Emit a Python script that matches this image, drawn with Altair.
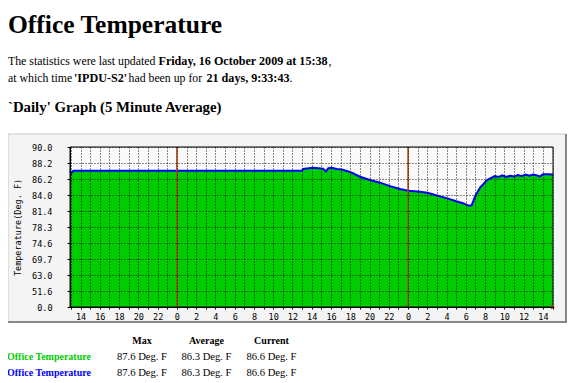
import altair as alt
import pandas as pd

# ---- data (hours relative to 15 Oct 2009 00:00) ----
hours = [-11.1, -10.95, -10.75, 13.0, 13.12, 14.13, 14.68, 15.17, 15.48, 15.72, 16.07, 16.59,
         17.11, 17.63, 18.15, 19.01, 20.05, 21.09, 22.13, 23.17, 24.0, 25.0, 26.0, 27.0, 28.0,
         29.0, 29.7, 30.3, 30.6, 31.0, 31.5, 32.2, 33.0, 33.4, 33.8, 34.2, 34.6, 35.0, 35.4,
         35.8, 36.2, 36.6, 37.0, 37.4, 37.7, 38.0, 38.5, 39.05]
temps = [87.3, 87.0, 87.3, 87.3, 87.5, 87.65, 87.6, 87.55, 87.2, 87.6, 87.65, 87.5,
         87.45, 87.25, 87.05, 86.53, 86.1, 85.74, 85.27, 84.86, 84.61, 84.5, 84.3, 83.9, 83.5,
         83.0, 82.7, 82.3, 82.35, 83.9, 85.1, 86.1, 86.62, 86.5, 86.7, 86.5, 86.65, 86.55, 86.75,
         86.6, 86.8, 86.65, 86.8, 86.7, 86.55, 86.85, 86.85, 86.8]
y_labels = ["0.0", "51.6", "63.0", "69.7", "74.6", "78.3", "81.4", "84.0", "86.2", "88.2", "90.0"]
x_domain = [-11.1, 39.05]
midnights = [0, 24]
stat_names = ["Max", "Average", "Current"]
stat_green = [87.6, 86.3, 86.6]
stat_blue = [87.6, 86.3, 86.6]

df = pd.DataFrame({"hour": hours, "temp": temps})

W, H = 483, 160
GREEN = "#00cc00"
BLUE = "#0000ff"
SERIF = "Liberation Serif"
MONO = "DejaVu Sans Mono"

grid_hours = list(range(-11, 40))
y_ticks = [round(i / 10, 1) for i in range(11)]
label_arr = "[" + ",".join("'%s'" % s for s in y_labels) + "]"

x_axis = alt.Axis(values=grid_hours, title=None,
                  labelExpr="(datum.value % 2 == 0) ? ('' + ((datum.value % 24 + 24) % 24)) : ''",
                  grid=True, gridColor="#000000", gridDash=[1, 2], gridOpacity=0.9,
                  domainColor="#000000", tickColor="#000000", tickSize=2,
                  labelPadding=3, labelFont=MONO, labelFontSize=8.5, labelColor="#000000",
                  labelFlush=False, labelOverlap=False, labelBound=False, zindex=1)
y_axis = alt.Axis(values=y_ticks,
                  labelExpr=label_arr + "[round(datum.value*10)]",
                  title="Temperature(Deg. F)", titleFont=MONO, titleFontSize=8.5,
                  titleFontWeight="normal", titleColor="#000000",
                  titleX=-53, titleY=H / 2, titleAngle=-90, titleAlign="center",
                  titleBaseline="middle",
                  grid=True, gridColor="#000000", gridDash=[1, 2], gridOpacity=0.9,
                  domainColor="#000000", tickColor="#000000", tickSize=3,
                  labelPadding=15, labelFont=MONO, labelFontSize=8.5, labelColor="#000000",
                  labelFlush=False, labelOverlap=False, labelBound=False, zindex=1)
x_scale = alt.Scale(domain=x_domain, nice=False, zero=False)
y_scale = alt.Scale(domain=[0, 1], nice=False, zero=True)

x_enc = alt.X("hour:Q", scale=x_scale, axis=x_axis)
y_enc = alt.Y("pos:Q", scale=y_scale, axis=y_axis)

base = alt.Chart(df).transform_calculate(
    pos="(exp(datum.temp / 90 * 5.3) - 1) / (exp(5.3) - 1)"
)

one = alt.Data(values=[{"a": 1}])

box = alt.Chart(one).mark_rect(fill="#f4f4f4", stroke="#c8c8c8", strokeWidth=1).encode(
    x=alt.value(-62), x2=alt.value(496), y=alt.value(-13), y2=alt.value(175))
box_r = alt.Chart(one).mark_rule(color="#6a6a6a", strokeWidth=1.5).encode(
    x=alt.value(496), y=alt.value(-13), y2=alt.value(175.5))
box_b = alt.Chart(one).mark_rule(color="#6a6a6a", strokeWidth=1.5).encode(
    x=alt.value(-62), x2=alt.value(496.5), y=alt.value(175))
plotbg = alt.Chart(one).mark_rect(fill="#fafafa").encode(
    x=alt.value(0), x2=alt.value(W), y=alt.value(0), y2=alt.value(H))

area = base.mark_area(color=GREEN, opacity=1).encode(x=x_enc, y=y_enc)
line = base.mark_line(color=BLUE, strokeWidth=2).encode(x=x_enc, y=y_enc)

mid = alt.Chart(pd.DataFrame({"hour": midnights})).mark_rule(
    color="#b8451c", strokeWidth=1.6).encode(x=x_enc, y=alt.value(0), y2=alt.value(H))

border = alt.Chart(one).mark_rect(filled=False, stroke="#000000", strokeWidth=1).encode(
    x=alt.value(0), x2=alt.value(W), y=alt.value(0), y2=alt.value(H))

arrow = alt.Chart(pd.DataFrame({"hour": [x_domain[1]]})).mark_point(
    shape="triangle-right", filled=True, color="#c83214", size=22, opacity=1).encode(
    x=x_enc, y=alt.value(H))


def txt(s, x, y, size, bold=False, color="#000000", align="left", font=SERIF):
    return alt.Chart(alt.Data(values=[{"t": s}])).mark_text(
        font=font, fontSize=size, fontWeight="bold" if bold else "normal",
        color=color, align=align, baseline="alphabetic").encode(
        text="t:N", x=alt.value(x), y=alt.value(y))


RS, BS = 11.8, 12.1
texts = [
    txt("Office Temperature", -62, -114, 25.5, True),
    txt("The statistics were last updated", -62, -82, RS),
    txt("Friday, 16 October 2009 at 15:38", 88.5, -82, BS, True),
    txt(",", 258.5, -82, RS),
    txt("at which time", -62, -65.5, RS),
    txt("'IPDU-S2'", 4, -65.5, BS, True),
    txt("had been up for", 58.5, -65.5, RS),
    txt("21 days, 9:33:43", 136.5, -65.5, BS, True),
    txt(".", 219.5, -65.5, RS),
    txt("`Daily' Graph (5 Minute Average)", -62, -35, 14.8, True),
]

col_x = [72, 136.5, 201.5]
for i, name in enumerate(stat_names):
    texts.append(txt(name, col_x[i], 197, 10, True, align="center"))
    texts.append(txt("%.1f Deg. F" % stat_green[i], col_x[i], 213, 10.6, align="center"))
    texts.append(txt("%.1f Deg. F" % stat_blue[i], col_x[i], 228.5, 10.6, align="center"))
texts.append(txt("Office Temperature", -63, 213, 10, True, color=GREEN))
texts.append(txt("Office Temperature", -63, 228.5, 10, True, color=BLUE))

chart = alt.layer(box, box_r, box_b, plotbg, area, line, mid, border, arrow, *texts).properties(
    width=W, height=H,
    padding={"left": 62, "top": 139, "right": 19, "bottom": 74},
    autosize=alt.AutoSizeParams(type="none"),
    background="#ffffff",
).configure_view(stroke=None, fill=None)

chart.save("out.html", embed_options={"renderer": "svg", "actions": False})
